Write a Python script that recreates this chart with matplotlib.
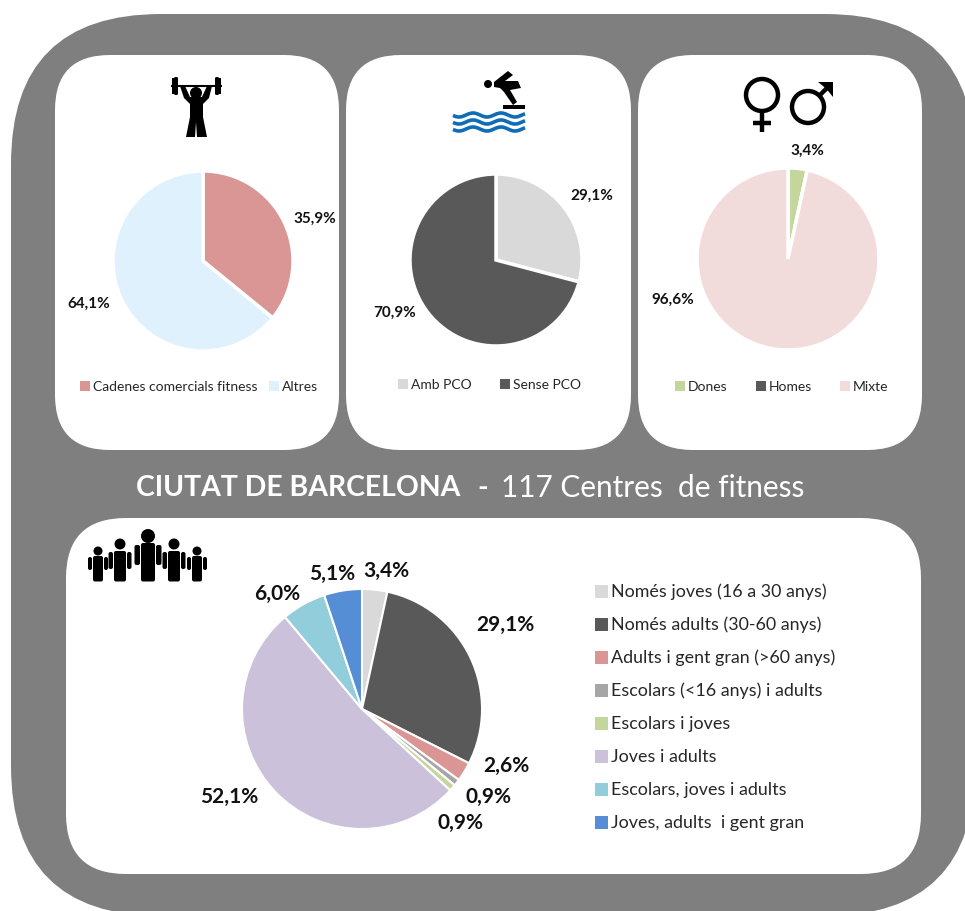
import numpy as np
import matplotlib
matplotlib.use("Agg")
import matplotlib.pyplot as plt
from matplotlib.patches import FancyBboxPatch, Circle, Polygon, Rectangle

plt.rcParams["font.family"] = ["Lato", "DejaVu Sans"]

W, H = 965, 911
GRAY = "#7f7f7f"

# data
fit_labels = ["Cadenes comercials fitness", "Altres"]
fit_values = [35.9, 64.1]
fit_colors = ["#d99694", "#dff1fc"]
fit_text = ["35,9%", "64,1%"]

pco_labels = ["Amb PCO", "Sense PCO"]
pco_values = [29.1, 70.9]
pco_colors = ["#d9d9d9", "#595959"]
pco_text = ["29,1%", "70,9%"]

sex_labels = ["Dones", "Homes", "Mixte"]
sex_values = [3.4, 0.0, 96.6]
sex_colors = ["#c3d69b", "#595959", "#f2dcdb"]
sex_text = ["3,4%", "96,6%"]

age_labels = ["Només joves (16 a 30 anys)", "Només adults (30-60 anys)",
              "Adults i gent gran (>60 anys)", "Escolars (<16 anys) i adults",
              "Escolars i joves", "Joves i adults",
              "Escolars, joves i adults", "Joves, adults  i gent gran"]
age_values = [3.4, 29.1, 2.6, 0.9, 0.9, 52.1, 6.0, 5.1]
age_colors = ["#d9d9d9", "#595959", "#d99694", "#a6a6a6",
              "#c3d69b", "#ccc1da", "#92cddc", "#558ed5"]
age_text = ["3,4%", "29,1%", "2,6%", "0,9%", "0,9%", "52,1%", "6,0%", "5,1%"]


def Y(y):
    return H - y


def box(ax, x0, y0, x1, y1, r, color, z=1):
    ax.add_patch(FancyBboxPatch((x0, Y(y1)), x1 - x0, y1 - y0,
                                boxstyle=f"round,pad=0,rounding_size={r}",
                                fc=color, ec="none", zorder=z))


def pie(ax, vals, colors, cx, cy, r, explode, lw=2.5):
    ax.pie(vals, colors=colors, center=(cx, Y(cy)), radius=r, startangle=90,
           counterclock=False, explode=explode, frame=True,
           wedgeprops=dict(edgecolor="white", linewidth=lw, zorder=3))


def poly(ax, pts, color="black"):
    ax.add_patch(Polygon([(x, Y(y)) for x, y in pts], closed=True, fc=color, ec="none", zorder=4))


def rect(ax, x0, y0, x1, y1, color="black", round_=0):
    if round_:
        box(ax, x0, y0, x1, y1, round_, color, z=4)
    else:
        ax.add_patch(Rectangle((x0, Y(y1)), x1 - x0, y1 - y0, fc=color, ec="none", zorder=4))


def line(ax, pts, lw, color="black"):
    ax.plot([p[0] for p in pts], [Y(p[1]) for p in pts], color=color, lw=lw,
            solid_capstyle="butt", solid_joinstyle="miter", zorder=4)


def ring(ax, x, y, r, lw):
    ax.add_patch(Circle((x, Y(y)), r, fc="none", ec="black", lw=lw, zorder=4))


def dot(ax, x, y, r):
    ax.add_patch(Circle((x, Y(y)), r, fc="black", ec="none", zorder=4))


def label(ax, x, y, s, size, weight="bold", color="#111111", ha="center"):
    ax.text(x, Y(y + 1), s, fontsize=size, fontweight=weight, color=color,
            ha=ha, va="center", zorder=5)


def legend(ax, items, colors, xs, y):
    for s, c, x in zip(items, colors, xs):
        rect(ax, x, y - 5, x + 10, y + 5, c)
        label(ax, x + 13, y, s, 10, "normal", "#262626", "left")


fig = plt.figure(figsize=(W / 100, H / 100), dpi=100, facecolor="white")
ax = fig.add_axes([0, 0, 1, 1])

# panels
box(ax, 11, 14, 975, 916, 150, GRAY, z=0)
box(ax, 55, 55, 339, 450, 55, "white")
box(ax, 346, 55, 631, 450, 55, "white")
box(ax, 638, 55, 922, 450, 55, "white")
box(ax, 66, 518, 921, 874, 60, "white")

# pies
pie(ax, fit_values, fit_colors, 203, 261, 90, [0.02, 0])
pie(ax, pco_values, pco_colors, 496, 260, 86, [0.03, 0])
pie(ax, sex_values, sex_colors, 788, 259, 91, [0.05, 0, 0])
pie(ax, age_values, age_colors, 362, 709, 120, [0, 0.01, 0.03, 0.03, 0.03, 0, 0, 0], lw=1.5)

# pie labels
for (x, y), s in zip([(315, 218), (89, 303)], fit_text):
    label(ax, x, y, s, 11)
for (x, y), s in zip([(592, 195), (395, 312)], pco_text):
    label(ax, x, y, s, 11)
for (x, y), s in zip([(807, 150), (673, 299)], sex_text):
    label(ax, x, y, s, 11)
age_pos = [(386, 570), (505, 624), (506, 765), (488, 796),
           (461, 822), (229, 796), (277, 593), (332, 573)]
for (x, y), s in zip(age_pos, age_text):
    label(ax, x, y, s, 15)

# legends
legend(ax, fit_labels, fit_colors, [80, 269], 386)
legend(ax, pco_labels, pco_colors, [398, 500], 384)
legend(ax, sex_labels, sex_colors, [675, 756, 840], 386)
for i, (s, c) in enumerate(zip(age_labels, age_colors)):
    y = 591 + i * 33
    rect(ax, 595, y - 6.5, 608, y + 6.5, c)
    label(ax, 611, y, s, 12.9, "normal", "#262626", "left")

# title
label(ax, 298, 487, "CIUTAT DE BARCELONA", 20.4, "bold", "white")
label(ax, 483, 487, "-", 20.4, "bold", "white")
label(ax, 653, 487, "117 Centres  de fitness", 21.4, "normal", "white")

# weightlifter
line(ax, [(171, 85.5), (222, 85.5)], 1.5)
rect(ax, 172, 78, 174, 94)
rect(ax, 174, 77, 178, 95, round_=1.5)
rect(ax, 215, 77, 219, 95, round_=1.5)
rect(ax, 219, 78, 221, 94)
dot(ax, 196, 93, 6)
poly(ax, [(180, 86), (185, 86), (190, 97), (202, 97), (207, 86), (212, 86), (209, 98),
          (203, 104), (203, 117), (207, 137), (197, 137), (196, 122), (195, 137),
          (186, 137), (190, 117), (190, 104), (184, 98)])

# diver
dot(ax, 488, 84, 4)
poly(ax, [(494, 82), (508, 71), (513, 75), (505, 81), (518, 81), (521, 88), (510, 90),
          (517, 102), (513, 105), (504, 92), (500, 88), (494, 87)])
rect(ax, 503, 105, 525, 108.5)
xw = np.linspace(453, 525, 60)
for yw in [115, 122, 129]:
    ax.plot(xw, Y(yw) + 2 * np.sin((xw - 453) / 28 * 2 * np.pi - 2.92),
            color="#0f6cb6", lw=2.6, zorder=4, solid_capstyle="butt")

# gender symbols
ring(ax, 762, 95, 16, 3.2)
line(ax, [(762, 112), (762, 132)], 3.2)
line(ax, [(753, 123), (771, 123)], 3.2)
ring(ax, 808, 107, 16, 3.2)
line(ax, [(819, 96), (830, 85)], 3.2)
poly(ax, [(818, 82), (833, 82), (833, 97), (829, 92), (823, 86)])

# people
for x, hy, hr, top, wb, wa, atop, abot in [(98, 551, 4.5, 556, 5, 4, 557, 570),
                                           (197, 551, 4.5, 556, 5, 4, 557, 570),
                                           (120, 544, 5.5, 551, 6, 4.5, 552, 569),
                                           (174, 544, 5.5, 551, 6, 4.5, 552, 569),
                                           (148, 536, 7, 543, 7, 5.5, 545, 565)]:
    dot(ax, x, hy, hr)
    rect(ax, x - wb, top, x + wb, 581.5, round_=2)
    rect(ax, x - wb - wa - 1, atop, x - wb - 1, abot, round_=2)
    rect(ax, x + wb + 1, atop, x + wb + wa + 1, abot, round_=2)

ax.set_xlim(0, W)
ax.set_ylim(0, H)
ax.set_aspect("auto")
ax.axis("off")

fig.savefig("out.png", dpi=100)
